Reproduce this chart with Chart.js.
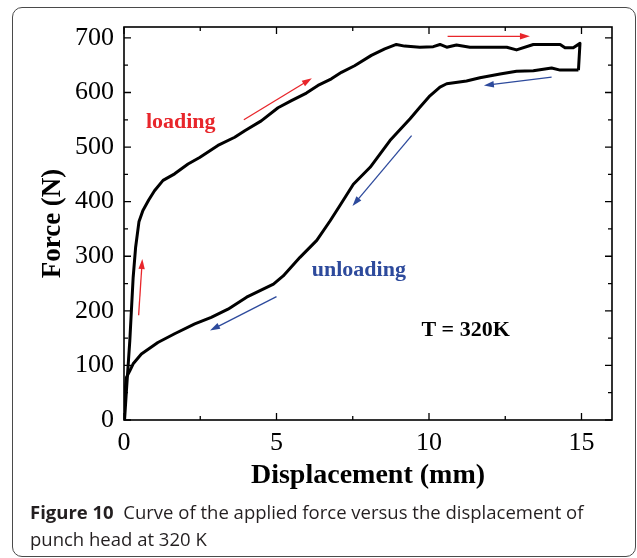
<!DOCTYPE html>
<html>
<head>
<meta charset="utf-8">
<script src="https://cdn.jsdelivr.net/npm/chart.js@4/dist/chart.umd.min.js"></script>
<style>
  html, body { margin: 0; padding: 0; background: #fff; }
  #wrap { position: relative; width: 637px; height: 558px; overflow: hidden; }
  #chart { position: absolute; left: 0; top: 0; }
  #frame {
    position: absolute; left: 12px; top: 7px; width: 622px; height: 548px;
    border: 1px solid #4a4a4a; border-radius: 10px; pointer-events: none;
  }
  #caption {
    position: absolute; left: 30px; top: 498px; width: 605px;
    font-family: "Open Sans", sans-serif; font-size: 18.5px; line-height: 27px;
    color: #231f20; white-space: nowrap;
  }
  #caption b { font-weight: 700; }
</style>
</head>
<body>
<div id="wrap">
  <canvas id="chart" width="637" height="495"></canvas>
  <div id="frame"></div>
  <div id="caption"><b>Figure 10</b>&nbsp; Curve of the applied force versus the displacement of<br>punch head at 320 K</div>
</div>
<script>
// Loading branch (displacement mm, force N)
const loadX = [0, 0.02, 0.08, 0.19, 0.3, 0.38, 0.49, 0.62, 0.81, 1.0, 1.28, 1.66, 2.1, 2.48, 3.08,
  3.63, 3.96, 4.5, 5.05, 5.49, 5.98, 6.36, 6.8, 7.13, 7.56, 8.11, 8.55, 8.93, 9.2, 9.7, 10.14,
  10.36, 10.58, 10.9, 11.34, 12.55, 12.87, 13.42, 14.3, 14.46, 14.73, 14.95, 14.9];
const loadY = [0, 2, 54, 145, 261, 316, 363, 384, 403, 420, 439, 451, 469, 481, 503,
  518, 530, 548, 572, 585, 599, 613, 625, 637, 649, 668, 680, 688, 685, 683, 684,
  688, 683, 687, 683, 683, 678, 688, 688, 682, 682, 690, 641];

// Unloading branch
const unloadX = [14.9, 14.51, 14.3, 14.02, 13.42, 12.87, 12.33, 11.67, 11.23, 10.58, 10.36, 10.03,
  9.7, 9.38, 8.72, 8.07, 7.52, 7.08, 6.76, 6.32, 5.77, 5.22, 4.9, 4.46, 4.02, 3.41, 2.86,
  2.32, 1.66, 1.11, 0.57, 0.3, 0.19, 0.08, 0, 0];
const unloadY = [641, 641, 641, 645, 640, 639, 634, 627, 621, 616, 610, 594,
  573, 552, 512, 463, 432, 393, 365, 329, 298, 264, 249, 237, 225, 203, 188,
  176, 158, 142, 121, 103, 90, 78, 35, 0];

// Axis ticks
const xTicks = [0, 5, 10, 15];
const xMinorTicks = [2.5, 7.5, 12.5];
const yTicks = [0, 100, 200, 300, 400, 500, 600, 700];
const yMinorTicks = [50, 150, 250, 350, 450, 550, 650];

// Direction arrows: [x0, y0, x1, y1]
const redArrows = [[0.48, 192, 0.6, 295], [3.93, 550, 6.16, 626], [10.61, 703, 13.31, 703]];
const blueArrows = [[14.02, 628, 11.8, 613], [9.43, 521, 7.49, 392], [5.0, 226, 2.82, 164]];

// In-plot labels: [text, x, y]
const labels = [["loading", 1.86, 535], ["unloading", 7.7, 264], ["T = 320K", 11.2, 154]];

const RED = "#e8262b";
const BLUE = "#2d4a9c";

function toPoints(xs, ys) {
  return xs.map((x, i) => ({ x: x, y: ys[i] }));
}

function arrow(ctx, x0, y0, x1, y1, color) {
  const ang = Math.atan2(y1 - y0, x1 - x0);
  const len = 10, half = 3.2;
  ctx.save();
  ctx.strokeStyle = color;
  ctx.fillStyle = color;
  ctx.lineWidth = 1.3;
  ctx.beginPath();
  ctx.moveTo(x0, y0);
  ctx.lineTo(x1 - len * 0.7 * Math.cos(ang), y1 - len * 0.7 * Math.sin(ang));
  ctx.stroke();
  ctx.beginPath();
  ctx.moveTo(x1, y1);
  ctx.lineTo(x1 - len * Math.cos(ang) + half * Math.sin(ang), y1 - len * Math.sin(ang) - half * Math.cos(ang));
  ctx.lineTo(x1 - len * Math.cos(ang) - half * Math.sin(ang), y1 - len * Math.sin(ang) + half * Math.cos(ang));
  ctx.closePath();
  ctx.fill();
  ctx.restore();
}

const decorPlugin = {
  id: "decor",
  afterDatasetsDraw(chart) {
    const ctx = chart.ctx;
    const xs = chart.scales.x, ys = chart.scales.y;
    const a = chart.chartArea;

    // frame
    ctx.save();
    ctx.strokeStyle = "#000";
    ctx.lineWidth = 1.6;
    ctx.strokeRect(a.left, a.top, a.right - a.left, a.bottom - a.top);

    // inward ticks on all four sides
    ctx.lineWidth = 1.3;
    ctx.beginPath();
    const xt = (v, l) => {
      const p = xs.getPixelForValue(v);
      ctx.moveTo(p, a.bottom); ctx.lineTo(p, a.bottom - l);
      ctx.moveTo(p, a.top); ctx.lineTo(p, a.top + l);
    };
    const yt = (v, l) => {
      const p = ys.getPixelForValue(v);
      ctx.moveTo(a.left, p); ctx.lineTo(a.left + l, p);
      ctx.moveTo(a.right, p); ctx.lineTo(a.right - l, p);
    };
    xTicks.forEach(v => xt(v, 7));
    xMinorTicks.forEach(v => xt(v, 4));
    yTicks.forEach(v => yt(v, 7));
    yMinorTicks.forEach(v => yt(v, 4));
    ctx.stroke();
    ctx.restore();

    redArrows.forEach(r => arrow(ctx, xs.getPixelForValue(r[0]), ys.getPixelForValue(r[1]),
      xs.getPixelForValue(r[2]), ys.getPixelForValue(r[3]), RED));
    blueArrows.forEach(r => arrow(ctx, xs.getPixelForValue(r[0]), ys.getPixelForValue(r[1]),
      xs.getPixelForValue(r[2]), ys.getPixelForValue(r[3]), BLUE));

    ctx.save();
    ctx.font = "bold 22px 'Liberation Serif'";
    ctx.textAlign = "center";
    ctx.textBaseline = "alphabetic";
    const colors = [RED, BLUE, "#000"];
    labels.forEach((l, i) => {
      ctx.fillStyle = colors[i];
      ctx.fillText(l[0], xs.getPixelForValue(l[1]), ys.getPixelForValue(l[2]));
    });
    ctx.restore();
  }
};

new Chart(document.getElementById("chart"), {
  type: "scatter",
  data: {
    datasets: [
      {
        label: "loading",
        data: toPoints(loadX, loadY),
        showLine: true,
        borderColor: "#000",
        borderWidth: 3,
        borderJoinStyle: "round",
        pointRadius: 0,
        tension: 0
      },
      {
        label: "unloading",
        data: toPoints(unloadX, unloadY),
        showLine: true,
        borderColor: "#000",
        borderWidth: 3,
        borderJoinStyle: "round",
        pointRadius: 0,
        tension: 0
      }
    ]
  },
  options: {
    responsive: false,
    animation: false,
    devicePixelRatio: 1,
    layout: { padding: { left: 0, top: 27, right: 25, bottom: 0 } },
    plugins: { legend: { display: false }, tooltip: { enabled: false } },
    scales: {
      x: {
        type: "linear",
        min: 0,
        max: 16,
        afterBuildTicks: s => { s.ticks = xTicks.map(v => ({ value: v })); },
        afterFit: s => { s.height = 75; },
        grid: { display: false, drawTicks: false },
        border: { display: false },
        ticks: {
          color: "#000",
          padding: 8,
          maxRotation: 0,
          font: { family: "Liberation Serif", size: 26 }
        },
        title: {
          display: true,
          text: "Displacement (mm)",
          color: "#000",
          padding: { top: 0, bottom: 2 },
          font: { family: "Liberation Serif", size: 28, weight: "bold" }
        }
      },
      y: {
        type: "linear",
        min: 0,
        max: 720,
        afterBuildTicks: s => { s.ticks = yTicks.map(v => ({ value: v })); },
        afterFit: s => { s.width = 124; },
        grid: { display: false, drawTicks: false },
        border: { display: false },
        ticks: {
          color: "#000",
          padding: 10,
          font: { family: "Liberation Serif", size: 26 }
        },
        title: {
          display: true,
          text: "Force (N)",
          color: "#000",
          padding: { top: 37, bottom: 0 },
          font: { family: "Liberation Serif", size: 27, weight: "bold" }
        }
      }
    }
  },
  plugins: [decorPlugin]
});
</script>
</body>
</html>
